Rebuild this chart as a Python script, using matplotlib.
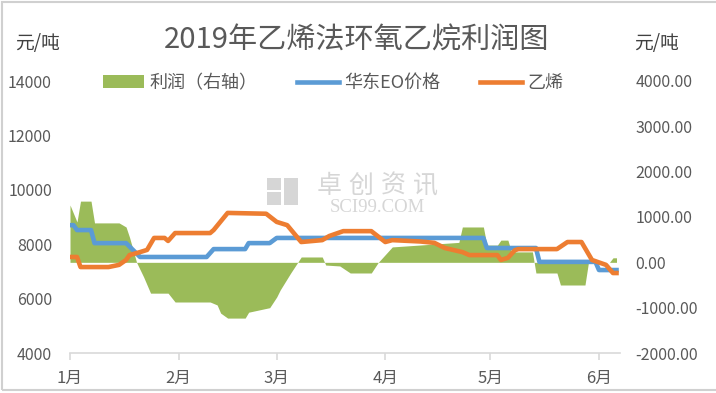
# -*- coding: utf-8 -*-

import matplotlib
matplotlib.use('Agg')
import matplotlib.pyplot as plt
import matplotlib.dates as mdates
from matplotlib.patches import Patch, Rectangle
from matplotlib.lines import Line2D
import pandas as pd

plt.rcParams['font.family'] = ['Noto Sans CJK SC', 'DejaVu Sans']
plt.rcParams['axes.unicode_minus'] = False

# Profit (right axis), yuan/ton
profit_dates = ['2019-01-01', '2019-01-03', '2019-01-04', '2019-01-07', '2019-01-08', '2019-01-15',
                '2019-01-17', '2019-01-18', '2019-01-20', '2019-01-22', '2019-01-24', '2019-01-29',
                '2019-01-31', '2019-02-10', '2019-02-12', '2019-02-13', '2019-02-15', '2019-02-20',
                '2019-02-21', '2019-02-27', '2019-03-01', '2019-03-02', '2019-03-05', '2019-03-07',
                '2019-03-08', '2019-03-14', '2019-03-15', '2019-03-19', '2019-03-22', '2019-03-28',
                '2019-03-30', '2019-04-03', '2019-04-22', '2019-04-23', '2019-04-29', '2019-04-30',
                '2019-05-03', '2019-05-04', '2019-05-06', '2019-05-07', '2019-05-13', '2019-05-14',
                '2019-05-20', '2019-05-21', '2019-05-28', '2019-05-29', '2019-06-04', '2019-06-05',
                '2019-06-06']
profit = [1265, 890, 1350, 1350, 870, 870, 780, 550, 0, -320,
          -680, -680, -875, -875, -940, -1120, -1230, -1230, -1100, -1000,
          -765, -610, -235, 0, 118, 118, -60, -80, -235, -235,
          0, 340, 440, 780, 780, 380, 380, 490, 490, 230,
          230, -235, -235, -500, -500, 0, 0, 100, 100]

# East China EO price (left axis)
eo_dates = ['2019-01-01', '2019-01-02', '2019-01-03', '2019-01-07', '2019-01-08', '2019-01-17',
            '2019-01-21', '2019-02-09', '2019-02-11', '2019-02-20', '2019-02-21', '2019-02-27',
            '2019-03-01', '2019-04-29', '2019-04-30', '2019-05-14', '2019-05-15', '2019-05-31',
            '2019-06-01', '2019-06-06']
eo_price = [8700, 8700, 8520, 8520, 8040, 8040, 7530, 7530, 7820, 7820,
            8040, 8040, 8230, 8230, 7860, 7860, 7350, 7350, 7050, 7050]

# Ethylene price (left axis)
eth_dates = ['2019-01-01', '2019-01-03', '2019-01-04', '2019-01-12', '2019-01-15', '2019-01-17',
             '2019-01-18', '2019-01-21', '2019-01-23', '2019-01-25', '2019-01-28', '2019-01-29',
             '2019-01-31', '2019-02-10', '2019-02-11', '2019-02-15', '2019-02-26', '2019-03-01',
             '2019-03-04', '2019-03-08', '2019-03-14', '2019-03-16', '2019-03-20', '2019-03-28',
             '2019-04-01', '2019-04-03', '2019-04-11', '2019-04-15', '2019-04-18', '2019-04-23',
             '2019-04-25', '2019-05-03', '2019-05-04', '2019-05-06', '2019-05-08', '2019-05-09',
             '2019-05-20', '2019-05-23', '2019-05-27', '2019-05-30', '2019-06-03', '2019-06-05',
             '2019-06-06']
eth_price = [7530, 7530, 7160, 7160, 7240, 7420, 7600, 7710, 7790, 8230,
             8230, 8120, 8410, 8410, 8520, 9150, 9120, 8820, 8700, 8080,
             8150, 8300, 8480, 8480, 8080, 8150, 8100, 8050, 7860, 7710,
             7600, 7600, 7420, 7500, 7780, 7820, 7820, 8080, 8080, 7420,
             7240, 6940, 6940]

left_ticks = [4000, 6000, 8000, 10000, 12000, 14000]
right_ticks = [-2000, -1000, 0, 1000, 2000, 3000, 4000]

green = '#9BBB59'
blue = '#5B9BD5'
orange = '#ED7D31'
text_gray = '#595959'
axis_gray = '#D9D9D9'

W, H = 716, 393
fig = plt.figure(figsize=(W / 100, H / 100), dpi=100)

ax = fig.add_axes([70 / W, 1 - 353 / H, 550 / W, 272 / H])
ax2 = ax.twinx()
ax.set_zorder(ax2.get_zorder() + 1)
ax.patch.set_visible(False)
ax2.patch.set_visible(False)

# profit area on the right axis
ax2.fill_between(pd.to_datetime(profit_dates), 0, profit, color=green, linewidth=0,
                 interpolate=True)
ax2.set_ylim(-2000, 4000)
ax2.set_yticks(right_ticks)
ax2.set_yticklabels(['%.2f' % v for v in right_ticks])

# price lines on the left axis
ax.plot(pd.to_datetime(eo_dates), eo_price, color=blue, lw=3.3, solid_joinstyle='round')
ax.plot(pd.to_datetime(eth_dates), eth_price, color=orange, lw=3.3, solid_joinstyle='round')
ax.set_ylim(4000, 14000)
ax.set_yticks(left_ticks)
ax.set_yticklabels([str(v) for v in left_ticks])

ax.set_xlim(pd.Timestamp('2019-01-01'), pd.Timestamp('2019-06-07'))
ax.xaxis.set_major_locator(mdates.MonthLocator())
ax.xaxis.set_major_formatter(plt.FuncFormatter(lambda x, p: '%d月' % mdates.num2date(x).month))

for a in (ax, ax2):
    for s in a.spines.values():
        s.set_visible(False)
ax.spines['bottom'].set_visible(True)
ax.spines['bottom'].set_color(axis_gray)
ax.spines['bottom'].set_linewidth(1.2)

ax.tick_params(axis='x', colors=axis_gray, length=5, width=1.2, labelsize=12,
               labelcolor=text_gray, pad=7)
ax.tick_params(axis='y', length=0, labelsize=11.5, labelcolor=text_gray, pad=13)
ax2.tick_params(axis='y', length=0, labelsize=11.5, labelcolor=text_gray, pad=11)

# titles and units
fig.text(357 / W, 1 - 41 / H, '2019年乙烯法环氧乙烷利润图', fontsize=21, color=text_gray,
         ha='center', va='center')
fig.text(38 / W, 1 - 43 / H, '元/吨', fontsize=13.5, color='#404040', ha='center', va='center')
fig.text(657 / W, 1 - 43 / H, '元/吨', fontsize=13.5, color='#404040', ha='center', va='center')

# legend
handles = [Patch(facecolor=green, edgecolor='none'),
           Line2D([], [], color=blue, lw=3.3),
           Line2D([], [], color=orange, lw=3.3)]
labels = ['利润（右轴）', '华东EO价格', '乙烯']
leg = fig.legend(handles, labels, loc='center', bbox_to_anchor=(333 / W, 1 - 83 / H), ncol=3,
                 frameon=False, fontsize=13, handlelength=2.3, handletextpad=0.3,
                 columnspacing=2.2)
for t in leg.get_texts():
    t.set_color(text_gray)

# watermark (behind the lines)
wm = '#D6D6D6'
for (x0, y0, w, h) in [(267, 178, 14, 12), (267, 192, 14, 13), (284, 178, 14, 27)]:
    ax2.add_patch(Rectangle((x0 / W, 1 - (y0 + h) / H), w / W, h / H, transform=fig.transFigure,
                            facecolor=wm, edgecolor='none', clip_on=False, zorder=0))
for i, ch in enumerate('卓创资讯'):
    ax2.text((329 + 32 * i) / W, 1 - 186 / H, ch, transform=fig.transFigure, fontsize=18,
             color=wm, ha='center', va='center', zorder=0)
ax2.text(377 / W, 1 - 207.5 / H, 'SCI99.COM', transform=fig.transFigure, fontsize=13.5,
         family='Liberation Serif', color=wm, ha='center', va='center', zorder=0)

# chart border
fig.patches.append(Rectangle((2 / W, 3 / H), 1.0, 1 - 5 / H, transform=fig.transFigure,
                             facecolor='none', edgecolor='#D0D0D0', lw=1.5))

plt.savefig('out.png', dpi=100)
